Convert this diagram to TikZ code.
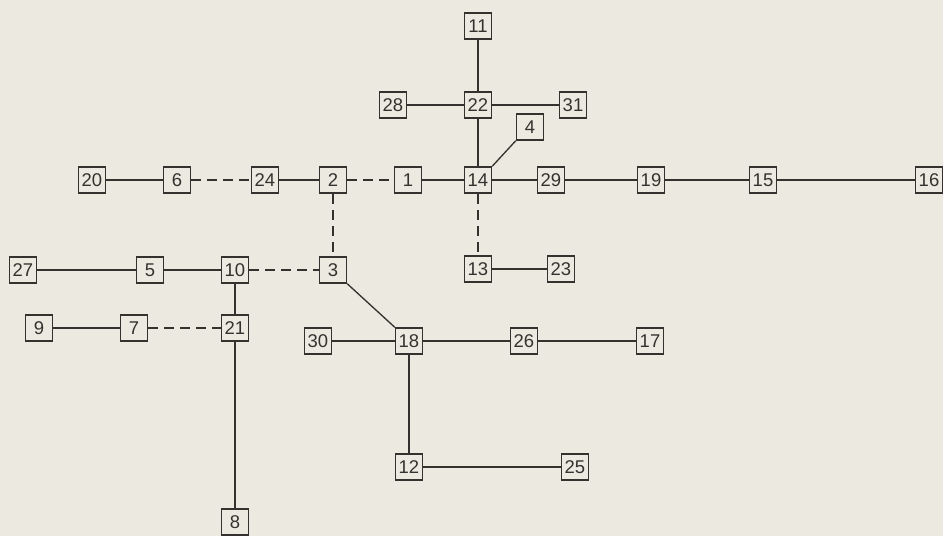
\documentclass[tikz,border=0pt]{standalone}
\usepackage{fontspec}
\setmainfont{Liberation Sans}
\usepackage{xcolor}
\definecolor{paper}{RGB}{236,233,224}
\definecolor{ink}{RGB}{52,50,46}
\usepackage{tikz}
\usetikzlibrary{positioning}
\tikzset{
  %% numbered boxes
  blk/.style={draw=ink, line width=0.8pt, fill=paper, text=ink,
              minimum width=5.4mm, minimum height=5.2mm, inner sep=0pt,
              font=\fontsize{10.5}{11}\selectfont},
  %% solid and dashed links
  ln/.style={draw=ink, line width=0.75pt},
  dln/.style={ln, dash pattern=on 2mm off 1.2mm},
}
\begin{document}
\begin{tikzpicture}[x=0.2mm, y=-0.2mm]
  \fill[paper] (0,0) rectangle (943,536);
  \useasboundingbox (0,0) rectangle (943,536);
  %% top cluster
  \node[blk] (n11) at (478,26)  {11};
  \node[blk] (n22) at (478,105) {22};
  \node[blk] (n28) at (393,105) {28};
  \node[blk] (n31) at (573,105) {31};
  \node[blk] (n4)  at (530,127) {4};
  %% main row
  \node[blk] (n20) at (92,180)  {20};
  \node[blk] (n6)  at (177,180) {6};
  \node[blk] (n24) at (265,180) {24};
  \node[blk] (n2)  at (333,180) {2};
  \node[blk] (n1)  at (408,180) {1};
  \node[blk] (n14) at (478,180) {14};
  \node[blk] (n29) at (551,180) {29};
  \node[blk] (n19) at (651,180) {19};
  \node[blk] (n15) at (763,180) {15};
  \node[blk] (n16) at (929,180) {16};
  %% second row
  \node[blk] (n13) at (478,269) {13};
  \node[blk] (n23) at (561,269) {23};
  \node[blk] (n27) at (23,270)  {27};
  \node[blk] (n5)  at (150,270) {5};
  \node[blk] (n10) at (235,270) {10};
  \node[blk] (n3)  at (333,270) {3};
  \node[blk] (n9)  at (39,328)  {9};
  \node[blk] (n7)  at (134,328) {7};
  \node[blk] (n21) at (235,328) {21};
  \node[blk] (n30) at (318,341) {30};
  \node[blk] (n18) at (409,341) {18};
  \node[blk] (n26) at (524,341) {26};
  \node[blk] (n17) at (650,341) {17};
  \node[blk] (n12) at (409,467) {12};
  \node[blk] (n25) at (575,467) {25};
  \node[blk] (n8)  at (235,522) {8};
  %% links
  \draw[ln] (n11) -- (n22);
  \draw[ln] (n28) -- (n22);
  \draw[ln] (n22) -- (n31);
  \draw[ln] (n22) -- (n14);
  \draw[ln] (n14.north east) -- (n4.south west);
  \draw[ln] (n20) -- (n6);
  \draw[dln] (n6) -- (n24);
  \draw[ln] (n24) -- (n2);
  \draw[dln] (n2) -- (n1);
  \draw[ln] (n1) -- (n14);
  \draw[ln] (n14) -- (n29);
  \draw[ln] (n29) -- (n19);
  \draw[ln] (n19) -- (n15);
  \draw[ln] (n15) -- (n16);
  \draw[dln] (n2) -- (n3);
  \draw[dln] (n14) -- (n13);
  \draw[ln] (n13) -- (n23);
  \draw[ln] (n27) -- (n5);
  \draw[ln] (n5) -- (n10);
  \draw[dln] (n10) -- (n3);
  \draw[ln] (n10) -- (n21);
  \draw[ln] (n9) -- (n7);
  \draw[dln] (n7) -- (n21);
  \draw[ln] (n21) -- (n8);
  \draw[ln] (n3.south east) -- (n18.north west);
  \draw[ln] (n30) -- (n18);
  \draw[ln] (n18) -- (n26);
  \draw[ln] (n26) -- (n17);
  \draw[ln] (n18) -- (n12);
  \draw[ln] (n12) -- (n25);
\end{tikzpicture}
\end{document}
